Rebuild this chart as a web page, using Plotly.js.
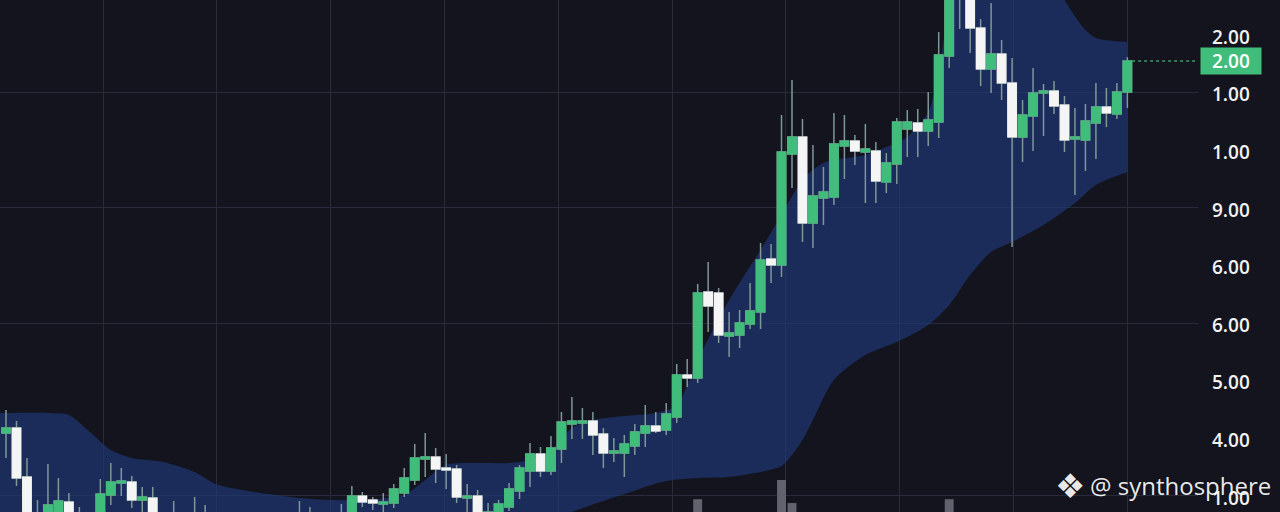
<!DOCTYPE html>
<html><head><meta charset="utf-8">
<script src="https://cdn.plot.ly/plotly-3.0.1.min.js"></script>
<style>html,body{margin:0;padding:0;background:#13141e;} #chart{width:1280px;height:512px;}</style>
</head><body><div id="chart"></div>
<script>
// ---- data ----
const openP = [1.79,1.84,1.35,0.97,0.87,0.92,1.10,0.87,0.92,0.87,
1.17,1.29,1.30,1.12,1.14,0.92,0.77,0.94,0.82,0.97,
0.84,0.74,0.82,0.72,0.64,0.72,0.67,0.77,0.87,0.82,
0.92,0.84,0.90,0.97,1.16,1.12,1.08,1.09,1.19,1.32,
1.53,1.55,1.44,1.43,1.14,1.16,0.87,0.92,1.05,1.21,
1.41,1.58,1.41,1.63,1.88,1.89,1.91,1.78,1.59,1.59,
1.66,1.79,1.86,1.82,1.95,2.37,2.34,3.20,3.19,2.76,
2.77,2.88,3.00,3.53,3.47,4.58,4.75,3.89,4.14,4.15,
4.66,4.71,4.60,4.61,4.30,4.48,4.83,4.89,4.81,4.90,
5.56,6.52,6.20,5.84,5.43,5.58,5.29,4.75,4.96,5.19,
5.21,5.07,4.73,4.72,4.89,5.05,4.98,5.20];
const highP = [2.02,1.91,1.54,1.12,1.48,1.34,1.19,1.05,0.97,1.33,
1.49,1.44,1.36,1.25,1.25,0.97,1.11,0.98,1.15,1.07,
0.94,0.90,0.92,0.82,0.77,0.84,0.82,0.92,1.11,1.05,
0.98,0.97,1.08,1.26,1.20,1.15,1.19,1.28,1.44,1.68,
1.79,1.64,1.58,1.47,1.28,1.22,1.09,1.12,1.29,1.47,
1.69,1.65,1.76,2.00,2.15,2.04,2.00,1.84,1.74,1.77,
1.88,2.07,2.00,2.09,2.48,2.53,3.28,3.50,3.24,3.00,
3.02,3.29,3.69,3.68,4.97,5.32,4.93,4.67,4.45,4.99,
4.97,4.77,4.88,4.70,4.59,4.94,5.02,5.03,5.20,5.80,
6.37,6.67,6.32,5.93,6.09,5.72,5.54,5.12,5.44,5.28,
5.31,5.16,5.04,5.08,5.29,5.24,5.29,5.55];
const lowP = [1.54,1.26,0.72,0.72,0.77,0.82,0.77,0.72,0.67,0.80,
1.07,1.16,1.04,0.97,0.82,0.67,0.67,0.72,0.72,0.77,
0.67,0.62,0.64,0.57,0.54,0.60,0.56,0.67,0.74,0.72,
0.77,0.72,0.80,0.87,1.05,1.02,1.00,1.04,1.15,1.27,
1.35,1.29,1.23,1.09,0.97,0.82,0.77,0.84,1.01,1.13,
1.25,1.35,1.37,1.49,1.73,1.73,1.57,1.44,1.50,1.35,
1.57,1.65,1.79,1.77,1.89,2.25,2.29,2.80,2.69,2.55,
2.64,2.83,2.83,3.29,3.35,4.24,3.70,3.64,3.87,4.07,
4.33,4.47,4.09,4.09,4.19,4.28,4.55,4.55,4.66,4.74,
5.44,5.83,5.59,5.26,5.19,5.12,3.65,4.50,4.61,4.76,
4.98,4.60,4.17,4.41,4.53,4.85,4.93,5.04];
const closeP = [1.84,1.34,0.82,0.82,1.07,1.11,0.87,0.98,0.80,1.18,
1.30,1.31,1.12,1.15,0.92,0.77,0.94,0.82,0.97,0.84,
0.74,0.82,0.72,0.64,0.72,0.67,0.77,0.87,0.82,0.92,
0.84,0.90,0.97,1.16,1.10,1.09,1.10,1.23,1.34,1.54,
1.55,1.43,1.42,1.15,1.16,0.92,1.00,1.08,1.23,1.44,
1.58,1.41,1.64,1.90,1.91,1.91,1.77,1.59,1.61,1.68,
1.80,1.86,1.81,1.98,2.37,2.34,3.19,3.06,2.77,2.79,
2.89,3.01,3.52,3.47,4.60,4.75,3.89,4.16,4.20,4.68,
4.71,4.61,4.63,4.31,4.49,4.90,4.90,4.81,4.92,5.57,
6.24,6.27,5.84,5.43,5.58,5.29,4.75,4.97,5.19,5.21,
5.06,4.72,4.75,4.91,5.05,4.99,5.20,5.51];

const bandUpperX = [-1,0,4,6,8,10,12,15,18,20,22,25,28,31,34,38,40,42,45,48,50,52,54,56,59,62,64,66,69,72,74,76,78,82,84,86,88,89,90,91,95,100,101,103,104,107];
const bandUpper  = [1.99,1.99,1.99,1.97,1.80,1.62,1.54,1.50,1.40,1.28,1.23,1.18,1.14,1.12,1.12,1.17,1.32,1.47,1.49,1.49,1.52,1.62,1.84,1.92,1.96,1.99,2.07,2.52,3.12,3.62,3.97,4.32,4.49,4.57,4.65,4.75,5.00,5.42,6.07,6.52,6.82,6.32,6.12,5.82,5.74,5.70];
const bandLowerX = [-1,10,20,30,40,48,54,59,63,66,69,72,74,75,76,77,79,82,85,88,90,92,94,96,99,102,104,107];
const bandLower  = [0.40,0.35,0.30,0.35,0.50,0.75,1.00,1.18,1.31,1.34,1.35,1.40,1.46,1.57,1.72,1.92,2.32,2.57,2.70,2.87,3.07,3.37,3.60,3.70,3.87,4.09,4.27,4.40];

const volumeX = [66,74,75,90];
const volumeY = [1.0,2.5,0.7,1.0];

const axisTickVals = [1.14,1.716,2.292,2.868,3.444,4.02,4.596,5.172,5.748];
const axisTickText = ["1.00","4.00","5.00","6.00","6.00","9.00","1.00","1.00","2.00"];
const gridVals = [1.17,2.89,4.05,5.195];
const tagText = "2.00";
const watermark = "@ synthosphere";

// ---- styles ----
const BG = '#13141e', GRID = '#2a2b3a', GREEN = '#40bd7b', WHITE = '#f5f5f5', WICK = '#7d9896';
const xRange = [-0.573, 113.74], yRange = [1.0, 6.12];

const idx = openP.map((_, i) => i);
const bodyHigh = openP.map((o, i) => Math.max(o, closeP[i]));
const bodyLow = openP.map((o, i) => Math.min(o, closeP[i]));
const last = idx.length - 1;

const traces = [
  {type:'scatter', mode:'lines', x:bandLowerX, y:bandLower, line:{width:0, color:'rgba(0,0,0,0)', shape:'spline', smoothing:0.8}, hoverinfo:'skip', showlegend:false},
  {type:'scatter', mode:'lines', x:bandUpperX, y:bandUpper, fill:'tonexty', fillcolor:'rgba(30,54,115,0.72)', line:{width:0, color:'rgba(0,0,0,0)', shape:'spline', smoothing:0.8}, hoverinfo:'skip', showlegend:false},
  {type:'candlestick', x:idx, open:openP, high:highP, low:lowP, close:closeP, yaxis:'y2',
   increasing:{line:{color:WICK, width:1.5}, fillcolor:GREEN}, decreasing:{line:{color:WICK, width:1.5}, fillcolor:WHITE},
   hoverinfo:'skip', showlegend:false},
  {type:'candlestick', x:idx, open:openP, high:bodyHigh, low:bodyLow, close:closeP, yaxis:'y2',
   increasing:{line:{color:GREEN, width:1.2}, fillcolor:GREEN}, decreasing:{line:{color:WHITE, width:1.2}, fillcolor:WHITE},
   hoverinfo:'skip', showlegend:false},
  {type:'bar', x:volumeX, y:volumeY, yaxis:'y3', width:0.85, marker:{color:'#62626e', line:{width:0}}, hoverinfo:'skip', showlegend:false}
];

const layout = {
  width:1280, height:512,
  margin:{l:0, r:82, t:0, b:0, pad:0},
  paper_bgcolor:BG, plot_bgcolor:BG, showlegend:false,
  boxgap:0.19, boxgroupgap:0,
  font:{family:'Open Sans', color:'#f2f2f2'},
  xaxis:{range:xRange, showticklabels:false, tickmode:'linear', tick0:9.26, dtick:10.86, showgrid:true, gridcolor:GRID, gridwidth:1, zeroline:false, showline:false, ticks:'', rangeslider:{visible:false}, fixedrange:true},
  yaxis:{range:yRange, tickmode:'array', tickvals:gridVals, showticklabels:false, showgrid:true, gridcolor:GRID, gridwidth:1, zeroline:false, showline:false, ticks:'', side:'right'},
  yaxis2:{range:yRange, overlaying:'y', anchor:'x', side:'right', tickmode:'array', tickvals:axisTickVals, ticktext:axisTickText, showgrid:false, zeroline:false, showline:false, ticks:'', ticklabelstandoff:13,
    tickfont:{family:'Open Sans', size:19, color:'#f2f2f2', weight:600}},
  yaxis3:{range:[0,40], overlaying:'y', anchor:'x', visible:false, showgrid:false},
  shapes:[
    {type:'line', xref:'x', yref:'y', x0:last+0.45, x1:xRange[1], y0:closeP[last], y1:closeP[last], line:{color:'rgba(64,189,123,0.8)', width:1.5, dash:'dot'}}
  ],
  annotations:[
    {xref:'paper', yref:'y', x:1200/1198, y:closeP[last], xanchor:'left', yanchor:'middle', text:tagText, showarrow:false,
     bgcolor:GREEN, width:60, height:26, borderpad:0, align:'center', font:{family:'Open Sans', size:19, color:'#ffffff', weight:600}},
    {xref:'paper', yref:'paper', x:1070/1198, y:1-486/512, xanchor:'center', yanchor:'middle', text:'❖', showarrow:false,
     font:{family:'DejaVu Sans', size:34, color:'rgba(255,255,255,0.92)'}},
    {xref:'paper', yref:'paper', x:1088/1198, y:1-485/512, xanchor:'left', yanchor:'middle', text:watermark, showarrow:false,
     font:{family:'Open Sans', size:24, color:'rgba(255,255,255,0.92)'}}
  ]
};

Plotly.newPlot('chart', traces, layout, {displayModeBar:false, staticPlot:true});
</script></body></html>
